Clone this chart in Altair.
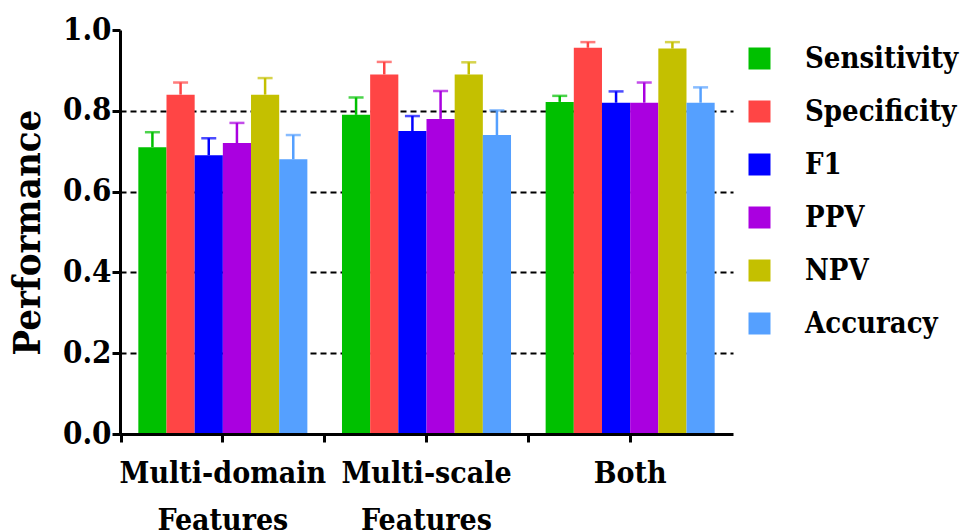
import altair as alt
import pandas as pd

groups = ["Multi-domain Features", "Multi-scale Features", "Both"]
metrics = ["Sensitivity", "Specificity", "F1", "PPV", "NPV", "Accuracy"]
colors = ["#00C000", "#FF4545", "#0000FF", "#AA00E0", "#C4C000", "#55A0FF"]

values_md = [0.71, 0.84, 0.69, 0.72, 0.84, 0.68]
errors_md = [0.037, 0.03, 0.042, 0.05, 0.041, 0.06]
values_ms = [0.79, 0.89, 0.75, 0.78, 0.89, 0.74]
errors_ms = [0.043, 0.031, 0.037, 0.069, 0.03, 0.061]
values_both = [0.822, 0.956, 0.82, 0.82, 0.954, 0.82]
errors_both = [0.015, 0.014, 0.028, 0.05, 0.016, 0.038]

y_ticks = [0.0, 0.2, 0.4, 0.6, 0.8, 1.0]

rows = []
for g, vals, errs in zip(groups, [values_md, values_ms, values_both],
                         [errors_md, errors_ms, errors_both]):
    for m, v, e in zip(metrics, vals, errs):
        rows.append({"group": g, "metric": m, "value": v, "upper": v + e})
df = pd.DataFrame(rows)

FONT = "'DejaVu Serif Condensed', 'DejaVu Serif', serif"

y_scale = alt.Scale(domain=[0, 1], nice=False, zero=True)
y_axis = alt.Axis(
    values=y_ticks, format=".1f", title="Performance",
    titleFont=FONT, titleFontSize=38, titleFontWeight="bold", titleColor="black",
    titleX=-92, titleY=202, titleAngle=270, titleAlign="center", titleBaseline="middle",
    labelFont=FONT, labelFontSize=31, labelFontWeight="bold", labelColor="black",
    labelPadding=1, tickSize=8, tickWidth=3, tickColor="black",
    domainColor="black", domainWidth=3,
    grid=True, gridColor="black", gridDash=[6, 4], gridWidth=2,
    gridOpacity={"condition": {"test": "datum.value <= 0 || datum.value >= 1", "value": 0}, "value": 1},
)

x_scale = alt.Scale(paddingInner=0.17, paddingOuter=0.09)
xo_scale = alt.Scale(paddingInner=0, paddingOuter=0)
color_scale = alt.Scale(domain=metrics, range=colors)

x_axis_main = alt.Axis(
    title=None, orient="bottom", labelExpr="split(datum.label, ' ')",
    labelFont=FONT, labelFontSize=30, labelFontWeight="bold", labelColor="black",
    labelAngle=0, labelPadding=16, labelLineHeight=47, labelLimit=400,
    labelOverlap=False, tickSize=8, tickWidth=3, tickColor="black",
    domainColor="black", domainWidth=3, grid=False, zindex=1,
)
x_axis_between = alt.Axis(
    title=None, orient="bottom", labels=False, domain=False, grid=False,
    ticks=True, tickSize=8, tickWidth=3, tickColor="black",
    bandPosition=-0.1024, zindex=1,
)

legend = alt.Legend(
    orient="none", legendX=625, legendY=14, title=None,
    symbolType="square", symbolSize=484, symbolStrokeWidth=0,
    labelFont=FONT, labelFontSize=29, labelFontWeight="bold", labelColor="black",
    labelOffset=31, rowPadding=23, padding=0, labelLimit=300,
)

bars = alt.Chart(df).mark_bar().encode(
    x=alt.X("group:N", sort=groups, scale=x_scale, axis=x_axis_main),
    xOffset=alt.XOffset("metric:N", sort=metrics, scale=xo_scale),
    y=alt.Y("value:Q", scale=y_scale, axis=y_axis),
    color=alt.Color("metric:N", sort=metrics, scale=color_scale, legend=legend),
)

rules = alt.Chart(df).mark_rule(strokeWidth=2.5).encode(
    x=alt.X("group:N", sort=groups, scale=x_scale, axis=x_axis_between),
    xOffset=alt.XOffset("metric:N", sort=metrics, scale=xo_scale),
    y=alt.Y("value:Q", scale=y_scale, axis=y_axis),
    y2="upper:Q",
    color=alt.Color("metric:N", sort=metrics, scale=color_scale, legend=None),
)

caps = alt.Chart(df).mark_tick(size=15, thickness=2.5).encode(
    x=alt.X("group:N", sort=groups, scale=x_scale, axis=None),
    xOffset=alt.XOffset("metric:N", sort=metrics, scale=xo_scale),
    y=alt.Y("upper:Q", scale=y_scale, axis=y_axis),
    color=alt.Color("metric:N", sort=metrics, scale=color_scale, legend=None),
)

chart = alt.layer(bars, rules, caps).resolve_axis(x="independent").properties(
    width=613, height=404,
    padding={"left": 120, "top": 30, "right": 235, "bottom": 97},
    autosize=alt.AutoSizeParams(type="none"),
    background="white",
).configure_view(stroke=None)

chart.save("out.html", embed_options={"renderer": "svg", "actions": False})
